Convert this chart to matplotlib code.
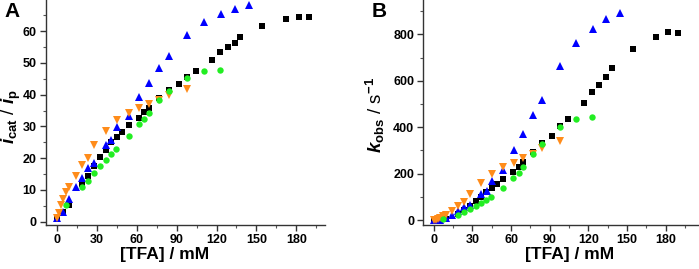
import matplotlib
matplotlib.use("Agg")
import matplotlib.pyplot as plt
from matplotlib.ticker import MultipleLocator

plt.rcParams['font.family'] = ['Liberation Sans', 'DejaVu Sans']
plt.rcParams['font.weight'] = 'bold'
plt.rcParams['mathtext.fontset'] = 'custom'
plt.rcParams['mathtext.rm'] = 'Liberation Sans:bold'
plt.rcParams['mathtext.it'] = 'Liberation Sans:bold:italic'
plt.rcParams['mathtext.bf'] = 'Liberation Sans:bold'

# [TFA] / mM and the two responses for each series
tfa_black = [0, 4.4, 9.4, 18.9, 23.4, 28.1, 32.6, 36.9, 40.8, 45, 49.3, 54, 61.8, 65.8, 69.5,
             76.8, 84, 91.8, 97.8, 104.3, 116.5, 123, 128.3, 133.8, 138, 154.5, 172.5, 181.8, 189.5]
icat_black = [1.4, 3.2, 5.3, 11.9, 14.5, 17.4, 20.3, 22.5, 25.1, 26.8, 28.2, 30.4, 32.6, 34.5, 35.9,
              38.9, 41.4, 43.5, 45.6, 47.4, 51, 53.3, 54.9, 56.4, 58, 61.6, 63.7, 64.6, 64.4]
kobs_black = [1, 2, 6, 28, 42, 60, 80, 98, 122, 138, 154, 178, 205, 230, 248,
              293, 330, 364, 404, 435, 503, 550, 583, 615, 653, 735, 787, 810, 805]

tfa_blue = [0, 4.5, 9.5, 14.5, 19, 23.5, 28.3, 37, 41, 45.5, 54, 62, 69.5, 77, 84,
            97.8, 110.3, 123.3, 133.8, 144.3]
icat_blue = [1.1, 3.1, 7.2, 10.8, 13.9, 16.8, 18.5, 24.1, 25.6, 29.7, 33.4, 39.4, 43.8, 48.5, 52.1,
             58.8, 62.8, 65.4, 67.1, 68.1]
kobs_blue = [0, 2, 10, 22, 37, 54, 66, 111, 127, 170, 215, 300, 369, 452, 519,
             665, 761, 823, 866, 890]

tfa_orange = [0, 1.5, 3.3, 5, 7, 9.3, 14.5, 19, 23.5, 28.3, 37, 45, 54, 62, 69.5, 77, 84, 97.8]
icat_orange = [1.1, 2.6, 5.1, 7.1, 9.2, 10.9, 14.3, 17.7, 20.1, 24.2, 28.5, 32.1, 34.2, 35.7, 37.2,
               38.3, 39.9, 41.7]
kobs_orange = [0, 1, 5, 10, 16, 23, 39, 60, 78, 113, 158, 200, 227, 247, 266, 285, 310, 340]

tfa_green = [6.9, 18.9, 23.4, 28.1, 32.6, 36.9, 40.9, 44.5, 54, 61.8, 65.8, 69.5, 76.8, 84,
             97.8, 110.3, 123]
icat_green = [5.2, 10.9, 12.9, 15.3, 17.6, 19.5, 21.3, 23, 26.9, 30.8, 32.4, 34.3, 38.3, 41.1,
              45.3, 47.4, 47.8]
kobs_green = [5, 23, 33, 46, 60, 73, 87, 101, 140, 183, 202, 230, 285, 327, 399, 436, 445]

W, H = 699, 269
fig = plt.figure(figsize=(W / 100, H / 100), dpi=100)
axA = fig.add_axes([45.7 / W, 44.3 / H, (325 - 45.7) / W, 1 - 44.3 / H])
axB = fig.add_axes([423.3 / W, 44 / H, 1 - 423.3 / W, 1 - 44 / H])


def draw(ax, yb, yk, yo, yg):
    ax.plot(tfa_black, yb, 's', color='black', ms=4.2, mew=0, zorder=3)
    ax.plot(tfa_blue, yk, '^', color='#0000ff', ms=5.2, mew=0, zorder=4)
    ax.plot(tfa_orange, yo, 'v', color='#ff8c1a', ms=5.2, mew=0, zorder=5)
    ax.plot(tfa_green, yg, 'o', color='#22ee22', ms=4.6, mew=0, zorder=6)
    for s in ['top', 'right']:
        ax.spines[s].set_visible(False)
    for s in ['left', 'bottom']:
        ax.spines[s].set_color('#333333')
        ax.spines[s].set_linewidth(1.0)
    ax.xaxis.set_major_locator(MultipleLocator(30))
    ax.xaxis.set_minor_locator(MultipleLocator(15))
    ax.tick_params(which='major', length=4, width=1, labelsize=9, pad=2.5, color='#333333')
    ax.tick_params(which='minor', length=2.5, width=0.8, color='#555555')
    ax.set_xlabel('[TFA] / mM', fontsize=12.5, fontweight='bold')
    for lab in ax.get_xticklabels() + ax.get_yticklabels():
        lab.set_fontweight('bold')


draw(axA, icat_black, icat_blue, icat_orange, icat_green)
axA.set_xlim(-8.3, 201.5)
axA.set_ylim(-0.95, 69.8)
axA.yaxis.set_major_locator(MultipleLocator(10))
axA.yaxis.set_minor_locator(MultipleLocator(5))
axA.set_ylabel(r'$i_{\mathrm{cat}}$ / $i_{\mathrm{p}}$', fontsize=13.5)
axA.yaxis.set_label_coords(-0.08, 0.48)
axA.xaxis.set_label_coords(0.425, -0.1)

draw(axB, kobs_black, kobs_blue, kobs_orange, kobs_green)
axB.set_xlim(-8.1, 205.8)
axB.set_ylim(-21.5, 948)
axB.yaxis.set_major_locator(MultipleLocator(200))
axB.yaxis.set_minor_locator(MultipleLocator(100))
axB.set_ylabel(r'$k_{\mathrm{obs}}$ / s$^{\mathrm{-1}}$', fontsize=13.5)
axB.yaxis.set_label_coords(-0.13, 0.49)
axB.xaxis.set_label_coords(0.532, -0.1)

fig.text(4 / W, 1 - 2 / H, 'A', fontsize=15, fontweight='bold', va='top', ha='left')
fig.text(372 / W, 1 - 2 / H, 'B', fontsize=15, fontweight='bold', va='top', ha='left')

fig.savefig('out.png', dpi=100)
